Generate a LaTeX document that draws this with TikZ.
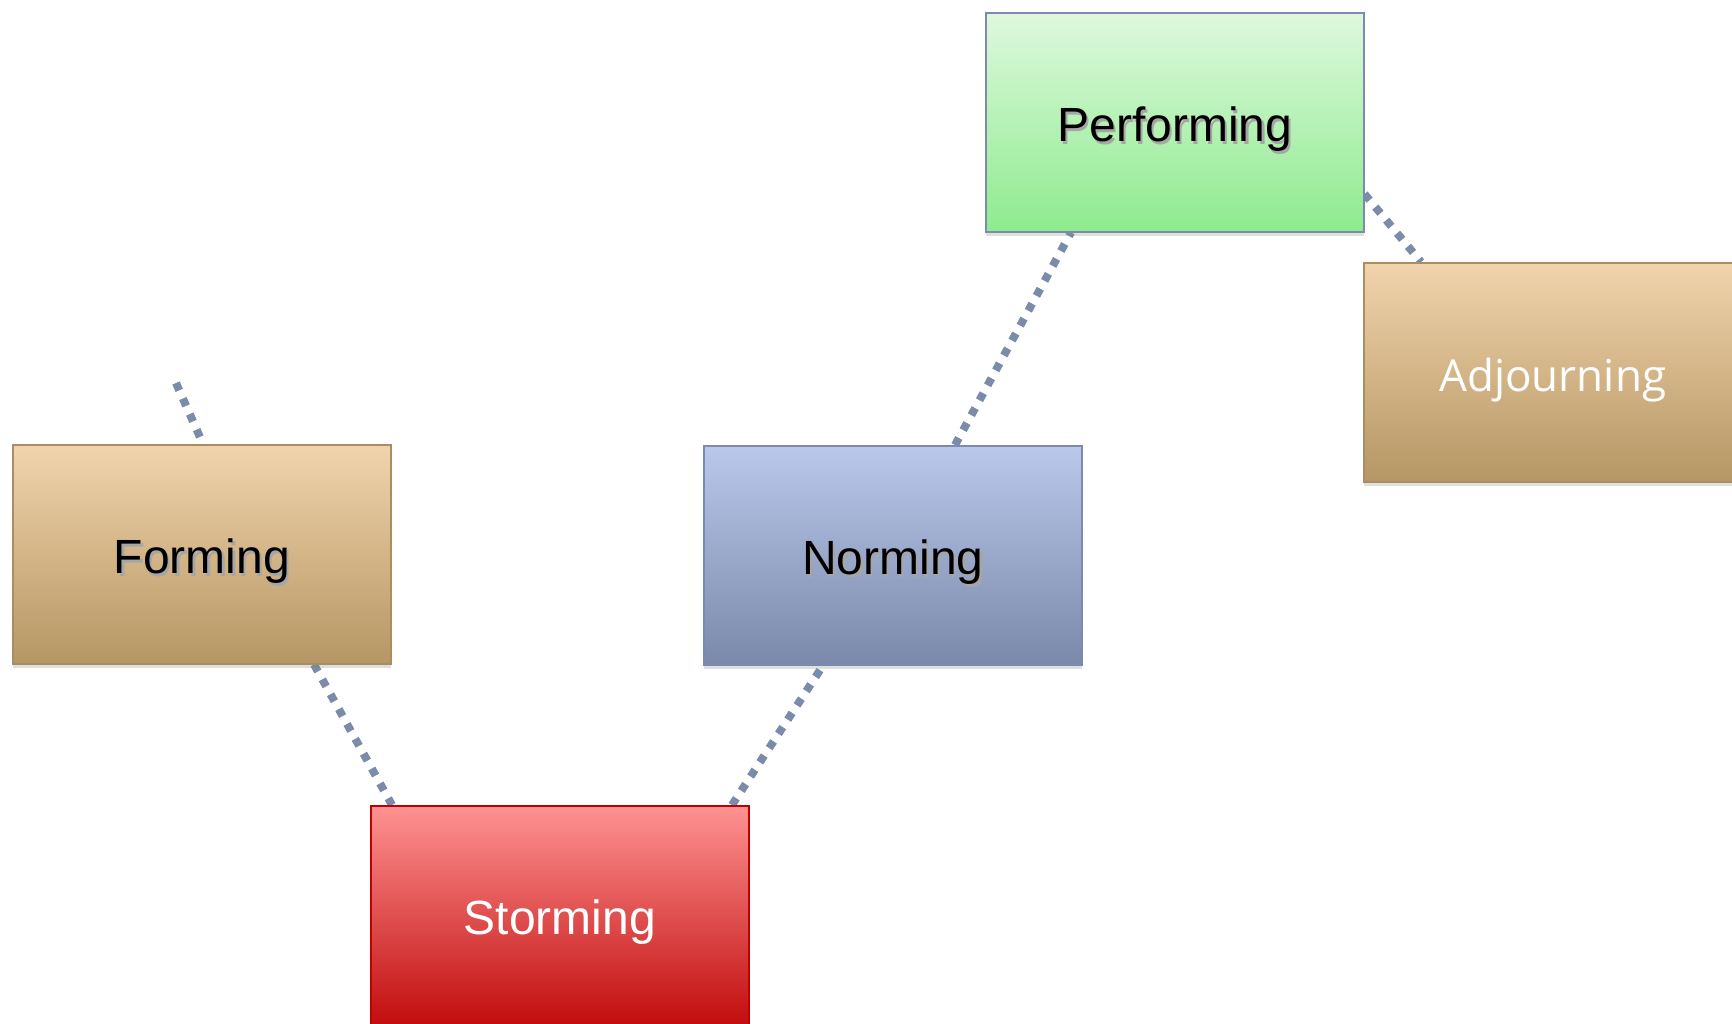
\documentclass[tikz,border=0pt]{standalone}
\usepackage{fontspec}
\setmainfont{Liberation Sans}
\newfontfamily\adjfont{Open Sans}
\usetikzlibrary{calc,shadows}
\pgfdeclarelayer{bg}
\pgfsetlayers{bg,main}
\definecolor{linec}{HTML}{7B8CAA}
\definecolor{tanT}{HTML}{F1D4AC}
\definecolor{tanB}{HTML}{B59664}
\definecolor{tanD}{HTML}{A88E62}
\definecolor{redT}{HTML}{FE9292}
\definecolor{redB}{HTML}{C20D0D}
\definecolor{redD}{HTML}{C00000}
\definecolor{bluT}{HTML}{BAC8EB}
\definecolor{bluB}{HTML}{7A88AA}
\definecolor{bluD}{HTML}{7C8BAD}
\definecolor{grnT}{HTML}{DEF8DE}
\definecolor{grnB}{HTML}{8EEB8E}
\newcommand{\shtext}[1]{\rlap{\kern2.5pt\raisebox{-2.5pt}{\color{black!35}#1}}#1}
\tikzset{
  stagebox/.style={draw, line width=1.5pt, anchor=north west, minimum width=378pt, minimum height=219pt,
    inner sep=0pt, text height=39pt, text depth=0pt, font=\fontsize{48}{57}\selectfont,
    drop shadow={shadow xshift=0pt, shadow yshift=-4pt, opacity=0.25}},
  link/.style={draw=linec, line width=8pt, dash pattern=on 8pt off 9pt, line cap=butt}
}
\begin{document}
\begin{tikzpicture}[x=1pt,y=-1pt]
\useasboundingbox (0,0) rectangle (1732,1023);
\clip (0,0) rectangle (1732,1023);
\node[stagebox, draw=tanD, top color=tanT, bottom color=tanB] (forming) at (12,444) {\shtext{Forming}};
\node[stagebox, draw=redD, top color=redT, bottom color=redB, text=white] (storming) at (370,805) {Storming};
\node[stagebox, draw=bluD, top color=bluT, bottom color=bluB] (norming) at (703,445) {\shtext{Norming}};
\node[stagebox, draw=bluD, top color=grnT, bottom color=grnB] (performing) at (985,12) {\shtext{Performing}};
\node[stagebox, draw=tanD, top color=tanT, bottom color=tanB, text=white, font=\adjfont\fontsize{44}{53}\selectfont] (adjourning) at (1363,262) {Adjourning};
\coordinate (c0) at (176,383);
\begin{pgfonlayer}{bg}
\draw[link] (c0) -- ($(forming.north west)+(191,0)$);
\draw[link] ($(forming.south west)+(302,0)$) -- ($(storming.north west)+(22,0)$);
\draw[link] ($(storming.north west)+(362,0)$) -- ($(norming.south west)+(120,0)$);
\draw[link] ($(norming.north west)+(252,0)$) -- ($(performing.south west)+(86,0)$);
\draw[link] ($(performing.north east)+(0,182)$) -- ($(adjourning.north west)+(58,0)$);
\end{pgfonlayer}
\end{tikzpicture}
\end{document}
